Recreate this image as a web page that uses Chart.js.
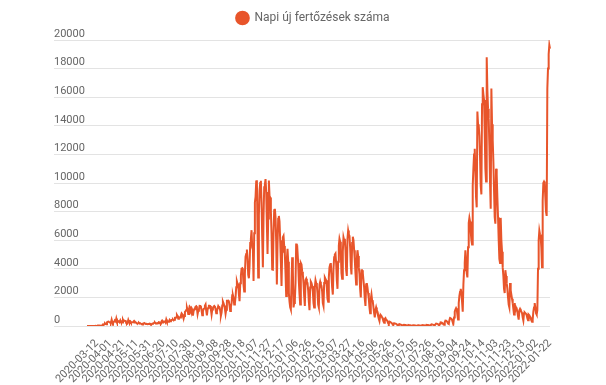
<!DOCTYPE html>
<html>
<head>
<meta charset="utf-8">
<title>Napi új fertőzések száma</title>
<script src="https://cdn.jsdelivr.net/npm/chart.js@4.4.0/dist/chart.umd.min.js"></script>
<style>
  html, body { margin: 0; padding: 0; background: #fff; }
  #wrap { width: 606px; height: 385px; position: relative; }
</style>
</head>
<body>
<div id="wrap"><canvas id="chart"></canvas></div>
<script>
// data: one value per day, starting 2020-02-26 (one day absent in July 2021)
var seriesName = 'Napi új fertőzések száma';
var firstDate = '2020-02-26';
var missingDates = ['2021-07-18'];
var labelEvery = 20;   // a date label on every 20th day
var labelStart = 15;   // first label: 2020-03-12
var yMax = 20000;
var yStep = 2000;

var dailyCases = [
	1, 0, 2, 0, 0, 0, 0,
	0, 1, 2, 1, 6, 2, 10,
	4, 5, 38, 34, 19, 30, 26,
	29, 31, 31, 86, 66, 143, 186,
	144, 123, 263, 291, 308, 293, 254,
	259, 247, 445, 270, 193, 265, 331,
	360, 312, 523, 319, 361, 345, 298,
	285, 395, 289, 241, 247, 434, 329,
	380, 370, 361, 190, 175, 241, 425,
	297, 286, 327, 239, 261, 254, 257,
	317, 243, 293, 242, 232, 190, 184,
	193, 218, 175, 191, 190, 124, 105,
	169, 186, 172, 175, 149, 159, 144,
	124, 136, 142, 165, 143, 106, 119,
	157, 174, 192, 235, 242, 183, 193,
	186, 206, 199, 263, 256, 215, 201,
	320, 247, 320, 269, 320, 317, 243,
	460, 330, 313, 305, 326, 420, 325,
	382, 420, 431, 456, 398, 432, 561,
	555, 614, 777, 698, 513, 615, 571,
	603, 745, 889, 828, 674, 512, 695,
	980, 1030, 1112, 1284, 1104, 840, 1151,
	1356, 1295, 1119, 1245, 1136, 733, 1040,
	1166, 1225, 1345, 1378, 1215, 825, 1060,
	1152, 1415, 1408, 1342, 1071, 757, 1017,
	1203, 1230, 1409, 1504, 1054, 749, 1144,
	1282, 1410, 1409, 1394, 1136, 798, 1150,
	1256, 1365, 1406, 1339, 1173, 894, 1024,
	1221, 1392, 1311, 1305, 1055, 714, 933,
	1434, 1713, 1589, 1438, 1189, 850, 1145,
	1767, 1767, 1778, 1680, 1408, 1042, 1345,
	1591, 2158, 2163, 1958, 1500, 1591, 2028,
	2711, 3130, 2958, 2919, 2222, 1737, 2983,
	3517, 4016, 4038, 3745, 2880, 2409, 3652,
	4848, 5028, 5343, 4702, 3582, 3338, 4204,
	5800, 6100, 6700, 5500, 5343, 3151, 6481,
	8651, 9025, 10100, 10200, 6500, 3400, 7733,
	9460, 10000, 10150, 8636, 6212, 4100, 7658,
	9708, 9900, 10269, 9364, 7115, 5034, 7510,
	10169, 9102, 8981, 8062, 6445, 3952, 3940,
	6500, 8100, 8200, 7600, 5900, 2900, 5700,
	7500, 7700, 7300, 6000, 4500, 2800, 5200,
	6200, 6300, 5600, 5000, 3700, 2100, 4700,
	5400, 4500, 2300, 1700, 1300, 1150, 3000,
	4800, 3900, 1300, 1600, 1800, 3000, 5760,
	5000, 5200, 4400, 3100, 2200, 1500, 4400,
	4300, 3800, 3600, 3000, 2100, 1400, 3200,
	3300, 3100, 3000, 2500, 1700, 1100, 2700,
	3100, 3000, 2800, 2400, 1600, 1300, 2700,
	3200, 3000, 2800, 2300, 1500, 1300, 2900,
	3100, 2900, 2800, 2400, 1600, 1400, 3000,
	3400, 3300, 3200, 2700, 1900, 1700, 3400,
	4100, 4300, 4400, 3500, 2700, 2200, 4000,
	4800, 5000, 5070, 4400, 3200, 2600, 4500,
	5600, 6100, 5900, 5100, 3700, 3300, 5200,
	6200, 6000, 6100, 5300, 3900, 3500, 6100,
	6670, 6400, 6300, 5500, 4200, 3600, 5800,
	6250, 6000, 5300, 4600, 3700, 2900, 4700,
	5300, 4900, 4100, 3600, 2600, 2000, 3900,
	3900, 3700, 3200, 2700, 1900, 1400, 2900,
	3000, 2700, 2300, 1900, 1300, 900, 1900,
	2200, 1800, 1700, 1300, 900, 600, 1100,
	1300, 1100, 1000, 800, 500, 350, 700,
	760, 700, 600, 500, 320, 230, 500,
	550, 450, 400, 330, 200, 150, 300,
	280, 250, 230, 170, 100, 80, 200,
	200, 170, 150, 110, 60, 40, 110,
	130, 110, 90, 70, 40, 25, 80,
	90, 80, 70, 55, 30, 20, 60,
	70, 60, 55, 40, 25, 15, 45,
	55, 50, 45, 35, 20, 10, 40,
	50, 45, 40, 30, 20, 10, 45,
	60, 55, 50, 40, 15, 55,
	80, 75, 70, 55, 35, 25, 80,
	120, 110, 100, 80, 50, 40, 120,
	170, 160, 150, 120, 70, 60, 170,
	250, 240, 220, 180, 110, 90, 260,
	380, 370, 330, 280, 170, 140, 400,
	570, 560, 500, 420, 260, 200, 600,
	1000, 1150, 1250, 1150, 800, 450, 1600,
	2100, 2400, 2600, 2300, 1700, 1000, 2900,
	3900, 4400, 5300, 4600, 3700, 3400, 5500,
	7200, 7560, 7300, 6600, 6000, 5700, 9800,
	11000, 12000, 12400, 10800, 9000, 8300, 15000,
	14100, 14000, 13300, 11800, 9800, 9200, 15500,
	16700, 16200, 15800, 13500, 11000, 10100, 18800,
	16500, 15200, 14500, 12600, 10000, 8200, 16600,
	14100, 13000, 11500, 9500, 7600, 7150, 11000,
	10600, 9000, 7600, 6000, 4700, 4400, 7560,
	6000, 5200, 4100, 3500, 2600, 2300, 3900,
	3500, 3000, 2600, 2000, 1500, 1300, 3000,
	2500, 2200, 1900, 1600, 1200, 800, 1600,
	1100, 1300, 1200, 1000, 700, 450, 1100,
	1200, 1100, 1000, 900, 600, 380, 900,
	950, 900, 850, 750, 550, 400, 800,
	750, 650, 550, 400, 300, 450, 1000,
	1300, 1600, 1300, 900, 800, 1100, 4000,
	6000, 6670, 6400, 6200, 5500, 4100, 8750,
	10000, 10100, 10000, 9000, 8000, 7700, 16600,
	18000, 19000, 19650, 19400
];

// build the date categories
var dates = [];
var d = new Date(firstDate + 'T00:00:00Z');
while (dates.length < dailyCases.length) {
	var s = d.toISOString().slice(0, 10);
	if (missingDates.indexOf(s) < 0) {
		dates.push(s);
	}
	d.setUTCDate(d.getUTCDate() + 1);
}

var lineColor = '#e8552b';
var textColor = '#666666';

// more room under the legend, and legend moved a little to the right
var legendSpace = {
	id: 'legendSpace',
	beforeInit: function (chart) {
		var fit = chart.legend.fit;
		chart.legend.fit = function () {
			fit.bind(chart.legend)();
			this.height += 6;
		};
	},
	afterLayout: function (chart) {
		chart.legend.left += 22;
	}
};

new Chart(document.getElementById('chart'), {
	type: 'line',
	data: {
		labels: dates,
		datasets: [{
			label: seriesName,
			data: dailyCases,
			borderColor: lineColor,
			backgroundColor: lineColor,
			borderWidth: 2,
			pointRadius: 0,
			tension: 0,
			fill: false
		}]
	},
	plugins: [legendSpace],
	options: {
		responsive: true,
		maintainAspectRatio: false,
		animation: false,
		layout: { padding: { left: 54, right: 56, top: 2, bottom: 0 } },
		plugins: {
			tooltip: { enabled: false },
			legend: {
				position: 'top',
				labels: {
					usePointStyle: true,
					pointStyle: 'circle',
					boxWidth: 12,
					boxHeight: 9,
					color: textColor,
					font: { family: 'Roboto', size: 12 }
				}
			}
		},
		scales: {
			x: {
				afterFit: function (scale) { scale.height = 59; },
				grid: { display: false },
				border: { display: false },
				ticks: {
					autoSkip: false,
					minRotation: 45,
					maxRotation: 45,
					color: textColor,
					font: { family: 'Roboto', size: 11 },
					callback: function (value, index) {
						return index % labelEvery === labelStart ? this.getLabelForValue(value) : '';
					}
				}
			},
			y: {
				min: 0,
				max: yMax,
				afterFit: function (scale) { scale.width = 33; },
				border: { display: false },
				grid: { color: '#e3e3e3', tickLength: 33 },
				ticks: {
					stepSize: yStep,
					crossAlign: 'far',
					labelOffset: -6,
					color: textColor,
					font: { family: 'Roboto', size: 11 },
					callback: function (value) { return String(value); }
				}
			}
		}
	}
});
</script>
</body>
</html>
